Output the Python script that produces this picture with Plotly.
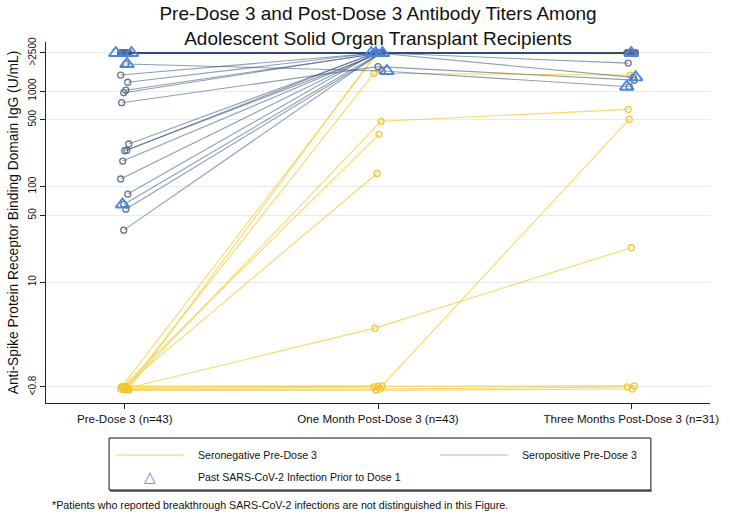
import plotly.graph_objects as go

# ---------------- data ----------------
timepoints = ["Pre-Dose 3 (n=43)", "One Month Post-Dose 3 (n=43)", "Three Months Post-Dose 3 (n=31)"]

# seropositive pre-dose 3
pos_pre = [2500, 2500, 1920, 65, 2500, 2500, 2500, 2500, 2500, 2500, 2500, 2500, 2500, 2500, 2500, 2500,
           2500, 2500, 1470, 1235, 1020, 960, 755, 279, 240, 237, 185, 120, 83.5, 58, 35]
pos_m1 = [2500, 2500, 1620, 2500, 2500, 2500, 2500, 2500, 2500, 2500, 2500, 2500, 2500, 2500, 2500, 2500,
          2500, 2500, 2500, 2500, 2500, 2500, 1800, 2500, 2500, 2500, 2500, 2500, 2500, 2500, 2500]
pos_m3 = [1390, 2500, 1110, None, 2500, 2500, 2500, 1960, 2500, None, 2500, None, 2500, 2500, None, 2500,
          2500, 2500, 2500, 2500, None, 2500, 1300, 2500, None, 2500, 2500, None, 2500, None, 2500]
pos_infected = [1, 1, 1, 1] + [0] * 27

# seronegative pre-dose 3
neg_pre = [0.80, 0.76, 0.79, 0.75, 0.80, 0.76, 0.78, 0.81, 0.75, 0.80, 0.74, 0.77]
neg_m1 = [2500, 2500, 1530, 482, 352, 137, 3.3, 0.82, 0.76, 0.81, 0.74, 0.80]
neg_m3 = [2450, None, 1470, 643, None, None, 22.9, 506, 0.80, 0.82, 0.76, None]

tick_vals = [0.8, 10, 50, 100, 500, 1000, 2500]
tick_text = ["<0.8", "10", "50", "100", "500", "1000", ">2500"]

# ---------------- styling ----------------
FONT = "Liberation Sans, Arial, Helvetica, sans-serif"
NEG_LINE = "rgba(247,205,60,0.78)"
NEG_MARK = "rgba(240,195,50,0.95)"
POS_LINE = "rgba(50,78,118,0.55)"
POS_MARK = "rgba(95,110,135,0.95)"
TRI = "#4a86e8"

def jit(i, k):
    return ((i * 7 + k * 3) % 9 - 4) * 0.004

fig = go.Figure()

def add_patient(vals, idx, line_col, mark_col):
    xs, ys = [], []
    for k, v in enumerate(vals):
        xs.append(k + jit(idx, k))
        ys.append(v)
    fig.add_trace(go.Scatter(
        x=xs, y=ys, mode="lines+markers", connectgaps=False,
        line=dict(color=line_col, width=1.1),
        marker=dict(symbol="circle-open", size=6, color=mark_col, line=dict(width=1.3, color=mark_col)),
        showlegend=False, hoverinfo="skip"))

for i in range(len(neg_pre)):
    add_patient([neg_pre[i], neg_m1[i], neg_m3[i]], i + 40, NEG_LINE, NEG_MARK)

for i in range(len(pos_pre)):
    add_patient([pos_pre[i], pos_m1[i], pos_m3[i]], i, POS_LINE, POS_MARK)

# triangles for past infection
tx, ty = [], []
for i in range(len(pos_pre)):
    if pos_infected[i]:
        for k, v in enumerate([pos_pre[i], pos_m1[i], pos_m3[i]]):
            if v is not None:
                tx.append(k + jit(i, k) * 2.2)
                ty.append(v)
fig.add_trace(go.Scatter(
    x=tx, y=ty, mode="markers",
    marker=dict(symbol="triangle-up-open", size=12, color=TRI, line=dict(width=1.9, color=TRI)),
    showlegend=False, hoverinfo="skip"))

fig.update_layout(
    width=730, height=514,
    margin=dict(l=44, r=12, t=42, b=111),
    paper_bgcolor="white", plot_bgcolor="white",
    font=dict(family=FONT, color="#111"),
    showlegend=False,
    title=dict(text="Pre-Dose 3 and Post-Dose 3 Antibody Titers Among<br>Adolescent Solid Organ Transplant Recipients",
               x=0.5, xref="paper", xanchor="center", y=1 - 20 / 514, yanchor="middle", yref="container",
               font=dict(size=19, family=FONT, color="#111")),
    xaxis=dict(range=[-0.311, 2.311], tickvals=[0, 1, 2], ticktext=timepoints,
               showgrid=False, zeroline=False, showline=True, linecolor="#222", linewidth=1,
               ticks="outside", ticklen=5, tickcolor="#222", tickfont=dict(size=11.6, family=FONT)),
    yaxis=dict(type="log", range=[-0.265, 3.513], tickvals=tick_vals, ticktext=tick_text,
               tickangle=-90, showgrid=True, gridcolor="#e6edf2", gridwidth=1, zeroline=False,
               showline=True, linecolor="#222", linewidth=1, ticks="outside", ticklen=5, tickcolor="#222",
               tickfont=dict(size=10, family=FONT),
               title=dict(text="Anti-Spike Protein Receptor Binding Domain IgG (U/mL)",
                          font=dict(size=13.8, family=FONT), standoff=5)),
)

# convert container pixels to paper coords
pl, pr, pt, pb = 44, 730 - 12, 42, 514 - 111
def xp(x): return (x - pl) / (pr - pl)
def yp(y): return (pb - y) / (pb - pt)

# manual legend box
fig.add_shape(type="line", xref="paper", yref="paper", x0=xp(109), x1=xp(659), y0=yp(491), y1=yp(491),
              line=dict(color="#777", width=2))
fig.add_shape(type="rect", xref="paper", yref="paper", x0=xp(108), x1=xp(658), y0=yp(490), y1=yp(438),
              line=dict(color="#111", width=1), fillcolor="white")
fig.add_shape(type="line", xref="paper", yref="paper", x0=xp(115), x1=xp(184), y0=yp(455), y1=yp(455),
              line=dict(color="#f7dc86", width=1.5))
fig.add_shape(type="line", xref="paper", yref="paper", x0=xp(444), x1=xp(513), y0=yp(455), y1=yp(455),
              line=dict(color="#c9d0da", width=1.5))

ann = [
    dict(text="Seronegative Pre-Dose 3", x=xp(196), y=yp(455), font=dict(size=10.6, family=FONT, color="#111")),
    dict(text="Seropositive Pre-Dose 3", x=xp(525), y=yp(455), font=dict(size=10.6, family=FONT, color="#111")),
    dict(text="Past SARS-CoV-2 Infection Prior to Dose 1", x=xp(196), y=yp(477),
         font=dict(size=10.6, family=FONT, color="#111")),
    dict(text="*Patients who reported breakthrough SARS-CoV-2 infections are not distinguished in this Figure.",
         x=xp(48), y=yp(505), font=dict(size=10.7, family=FONT, color="#111")),
]
for a in ann:
    fig.add_annotation(xref="paper", yref="paper", xanchor="left", yanchor="middle", showarrow=False, **a)
fig.add_annotation(xref="paper", yref="paper", x=xp(150), y=yp(477), text="△", showarrow=False,
                   xanchor="center", yanchor="middle", font=dict(size=15, family="DejaVu Sans", color=TRI))

fig.write_html("out.html", config={"displayModeBar": False},
               post_script="document.body.style.margin='0px';document.body.style.overflow='hidden';")
